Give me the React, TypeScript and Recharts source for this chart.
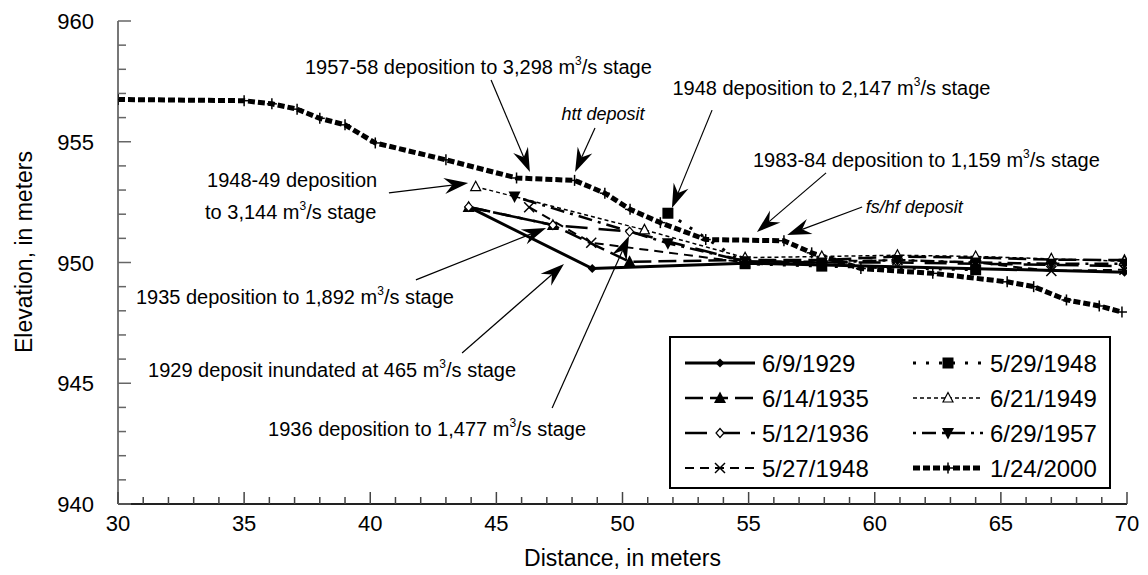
import React from 'react';
import { LineChart, Line, XAxis, YAxis } from 'recharts';

// ---------- data ----------
const xTicks = [30,31,32,33,34,35,36,37,38,39,40,41,42,43,44,45,46,47,48,49,50,51,52,53,54,55,56,57,58,59,60,61,62,63,64,65,66,67,68,69,70];
const xTickLabels = ['30','35','40','45','50','55','60','65','70'];
const yTicks = [940,941,942,943,944,945,946,947,948,949,950,951,952,953,954,955,956,957,958,959,960];
const yTickLabels = ['940','945','950','955','960'];

const dist1929 = [43.9, 48.8, 54.86, 69.9];
const elev1929 = [952.3, 949.75, 949.97, 949.6];

const dist1935 = [43.9, 47.24, 50.28, 54.86, 57.9, 60.9, 64.0, 67.0, 69.9];
const elev1935 = [952.3, 951.55, 950.03, 950.1, 950.1, 950.25, 950.2, 950.12, 950.1];

const dist1936 = [43.9, 47.24, 50.28, 54.86, 57.9, 60.9, 64.0, 67.0, 69.9];
const elev1936 = [952.3, 951.55, 951.28, 950.05, 950.0, 950.0, 949.95, 949.9, 949.85];

const dist1948a = [46.3, 48.76, 54.86, 57.9, 60.9, 64.0, 67.0, 69.9];
const elev1948a = [952.29, 950.82, 950.0, 950.05, 950.1, 950.0, 949.65, 949.7];

const dist1948b = [51.8, 54.86, 57.9, 64.0];
const elev1948b = [952.04, 949.95, 949.85, 949.7];

const dist1949 = [44.18, 50.87, 54.86, 57.9, 60.9, 64.0, 67.0, 69.9];
const elev1949 = [953.14, 951.35, 950.2, 950.25, 950.3, 950.25, 950.15, 950.05];

const dist1957 = [45.72, 51.8, 54.86, 57.9, 60.9, 64.0, 67.0, 69.9];
const elev1957 = [952.73, 950.8, 950.05, 950.0, 950.1, 950.0, 949.95, 949.95];

const dist2000 = [30, 35, 36.1, 37.1, 38, 39, 40.2, 43, 45.8, 48.1, 49.3, 50.3, 51.5, 53.3, 56.4, 57.5, 59.45, 62.3, 65.25, 66.3, 67.6, 68.9, 69.8];
const elev2000 = [956.75, 956.7, 956.57, 956.35, 955.97, 955.7, 954.95, 954.25, 953.5, 953.4, 952.87, 952.2, 951.65, 950.95, 950.9, 950.4, 949.75, 949.55, 949.2, 949.0, 948.45, 948.2, 947.95];

const legendLabels = ['6/9/1929','6/14/1935','5/12/1936','5/27/1948','5/29/1948','6/21/1949','6/29/1957','1/24/2000'];

const build = (d: number[], e: number[]) => d.map((v, i) => ({ d: v, e: e[i] }));

// ---------- layout ----------
const W = 1148, H = 575;
const PL = 118, PR = 1127, PT = 21, PB = 504;
const YW = 100, XH = 40;
const FONT = '"Liberation Sans", Arial, Helvetica, sans-serif';
const px = (d: number) => PL + (d - 30) * (PR - PL) / 40;
const py = (e: number) => PT + (960 - e) * (PB - PT) / 20;

// ---------- markers ----------
type MK = 'diamond' | 'tri' | 'odiamond' | 'x' | 'square' | 'otri' | 'dtri' | 'plus';
const marker = (k: MK, cx: number, cy: number, key?: any) => {
  switch (k) {
    case 'diamond':
      return <polygon key={key} points={`${cx},${cy - 4.5} ${cx + 4.5},${cy} ${cx},${cy + 4.5} ${cx - 4.5},${cy}`} fill="#000" />;
    case 'tri':
      return <polygon key={key} points={`${cx},${cy - 6.5} ${cx + 6},${cy + 5} ${cx - 6},${cy + 5}`} fill="#000" />;
    case 'odiamond':
      return <polygon key={key} points={`${cx},${cy - 4.5} ${cx + 4},${cy} ${cx},${cy + 4.5} ${cx - 4},${cy}`} fill="#fff" stroke="#000" strokeWidth={1.2} />;
    case 'x':
      return <g key={key}><line x1={cx - 5} y1={cy - 5} x2={cx + 5} y2={cy + 5} stroke="#000" strokeWidth={1.5} /><line x1={cx - 5} y1={cy + 5} x2={cx + 5} y2={cy - 5} stroke="#000" strokeWidth={1.5} /></g>;
    case 'square':
      return <rect key={key} x={cx - 5.5} y={cy - 5.5} width={11} height={11} fill="#000" />;
    case 'otri':
      return <polygon key={key} points={`${cx},${cy - 5.5} ${cx + 5},${cy + 4} ${cx - 5},${cy + 4}`} fill="#fff" stroke="#000" strokeWidth={1.2} />;
    case 'dtri':
      return <polygon key={key} points={`${cx - 6},${cy - 5} ${cx + 6},${cy - 5} ${cx},${cy + 6.5}`} fill="#000" />;
    case 'plus':
      return <g key={key}><line x1={cx - 5} y1={cy} x2={cx + 5} y2={cy} stroke="#000" strokeWidth={1.5} /><line x1={cx} y1={cy - 5.5} x2={cx} y2={cy + 5.5} stroke="#000" strokeWidth={1.5} /></g>;
  }
  return <g key={key} />;
};
const dotFn = (k: MK) => (p: any) => marker(k, p.cx, p.cy, `${k}-${p.index}`);

const SERIES = [
  { name: legendLabels[0], data: build(dist1929, elev1929), w: 3, dash: undefined as string | undefined, mk: 'diamond' as MK },
  { name: legendLabels[1], data: build(dist1935, elev1935), w: 2.5, dash: '18 7', mk: 'tri' as MK },
  { name: legendLabels[2], data: build(dist1936, elev1936), w: 2.5, dash: '22 11', mk: 'odiamond' as MK },
  { name: legendLabels[3], data: build(dist1948a, elev1948a), w: 2, dash: '9 6', mk: 'x' as MK },
  { name: legendLabels[4], data: build(dist1948b, elev1948b), w: 3, dash: '3 10', mk: 'square' as MK },
  { name: legendLabels[5], data: build(dist1949, elev1949), w: 1.5, dash: '4 3', mk: 'otri' as MK },
  { name: legendLabels[6], data: build(dist1957, elev1957), w: 2.5, dash: '3 6 14 6', mk: 'dtri' as MK },
  { name: legendLabels[7], data: build(dist2000, elev2000), w: 5, dash: '7 3', mk: 'plus' as MK },
];

// ---------- ticks ----------
const XTick = (props: any) => {
  const { x, payload } = props;
  const v = payload.value;
  const major = xTickLabels.includes(String(v));
  return (
    <g>
      <line x1={x} x2={x} y1={PB} y2={PB - (major ? 12 : 7)} stroke="#444" strokeWidth={1.5} />
      {major && <text x={x} y={PB + 27} textAnchor="middle" fontSize={22} fontFamily={FONT} fill="#000">{v}</text>}
    </g>
  );
};
const YTick = (props: any) => {
  const { y, payload } = props;
  const v = payload.value;
  const major = yTickLabels.includes(String(v));
  return (
    <g>
      <line x1={PL} x2={PL + (major ? 13 : 8)} y1={y} y2={y} stroke="#666" strokeWidth={1.5} />
      {major && <text x={94} y={y + 8} textAnchor="end" fontSize={22} fontFamily={FONT} fill="#000">{v}</text>}
    </g>
  );
};

// ---------- annotations (positions in distance / elevation) ----------
const arrows = [
  [44.79, 957.56, 46.33, 953.75],
  [48.91, 955.57, 48.12, 953.75],
  [53.55, 956.31, 51.96, 952.26],
  [58.07, 953.71, 55.33, 951.26],
  [59.5, 952.3, 56.53, 951.14],
  [40.74, 952.88, 43.88, 953.29],
  [41.81, 949.28, 46.97, 951.43],
  [43.64, 946.25, 47.68, 949.94],
  [47.21, 943.98, 50.26, 951.1],
];
const notes = [
  { d: 37.41, e: 958.11, pre: '1957-58 deposition to 3,298 m', post: '/s stage' },
  { d: 51.98, e: 957.21, pre: '1948 deposition to 2,147 m', post: '/s stage' },
  { d: 55.17, e: 954.24, pre: '1983-84 deposition to 1,159 m', post: '/s stage' },
  { d: 33.53, e: 953.42, pre: '1948-49 deposition', post: '' },
  { d: 33.45, e: 952.1, pre: 'to 3,144 m', post: '/s stage' },
  { d: 30.71, e: 948.58, pre: '1935 deposition to 1,892 m', post: '/s stage' },
  { d: 31.19, e: 945.55, pre: '1929 deposit inundated at 465 m', post: '/s stage' },
  { d: 35.95, e: 943.09, pre: '1936 deposition to 1,477 m', post: '/s stage' },
];
const italicNotes = [
  { d: 49.23, e: 956.19, text: 'htt deposit', anchor: 'middle' },
  { d: 59.64, e: 952.31, text: 'fs/hf deposit', anchor: 'start' },
];

const Arrow = ({ a }: { a: number[] }) => {
  const x1 = px(a[0]), y1 = py(a[1]), x2 = px(a[2]), y2 = py(a[3]);
  const dx = x2 - x1, dy = y2 - y1;
  const len = Math.hypot(dx, dy);
  const ux = dx / len, uy = dy / len;
  const L = 24, Wd = 8, N = 16;
  const bx = x2 - ux * L, by = y2 - uy * L;
  const nx = -uy, ny = ux;
  const nxp = x2 - ux * N, nyp = y2 - uy * N;
  return (
    <g>
      <line x1={x1} y1={y1} x2={nxp} y2={nyp} stroke="#000" strokeWidth={1.2} />
      <polygon points={`${x2},${y2} ${bx + nx * Wd},${by + ny * Wd} ${nxp},${nyp} ${bx - nx * Wd},${by - ny * Wd}`} fill="#000" />
    </g>
  );
};

const LegendItem = ({ s, x, y }: { s: typeof SERIES[number]; x: number; y: number }) => (
  <g>
    <line x1={x} x2={x + 70} y1={y} y2={y} stroke="#000" strokeWidth={s.w} strokeDasharray={s.dash} />
    {marker(s.mk, x + 35, y)}
    <text x={x + 77} y={y + 8.5} fontSize={24} fontFamily={FONT} fill="#000">{s.name}</text>
  </g>
);

export default function App() {
  return (
    <div style={{ position: 'absolute', left: 0, top: 0, width: W, height: H, background: '#fff' }}>
      <LineChart width={W} height={H} margin={{ top: PT, right: W - PR, bottom: H - PB - XH, left: PL - YW }}>
        <XAxis dataKey="d" type="number" domain={[30, 70]} ticks={xTicks} interval={0} height={XH}
          tickSize={0} tickMargin={0} tick={<XTick />} axisLine={{ stroke: '#222', strokeWidth: 2 }} allowDataOverflow />
        <YAxis dataKey="e" type="number" domain={[940, 960]} ticks={yTicks} interval={0} width={YW}
          tickSize={0} tickMargin={0} tick={<YTick />} axisLine={{ stroke: '#777', strokeWidth: 2 }} allowDataOverflow />
        {SERIES.map((s) => (
          <Line key={s.name} data={s.data} dataKey="e" type="linear" stroke="#000" strokeWidth={s.w}
            strokeDasharray={s.dash} dot={dotFn(s.mk)} activeDot={false} isAnimationActive={false} legendType="none" />
        ))}
      </LineChart>
      <svg width={W} height={H} style={{ position: 'absolute', left: 0, top: 0, pointerEvents: 'none' }}>
        {arrows.map((a, i) => <Arrow key={i} a={a} />)}
        {notes.map((n, i) => (
          <text key={i} x={px(n.d)} y={py(n.e) + 7} fontSize={20} fontFamily={FONT} fill="#000">
            <tspan>{n.pre}</tspan>
            {n.post && <tspan fontSize={12} dy={-9}>3</tspan>}
            {n.post && <tspan dy={9}>{n.post}</tspan>}
          </text>
        ))}
        {italicNotes.map((n, i) => (
          <text key={i} x={px(n.d)} y={py(n.e) + 6.5} fontSize={18} fontStyle="italic" textAnchor={n.anchor as any} fontFamily={FONT} fill="#000">{n.text}</text>
        ))}
        <rect x={670} y={337} width={440} height={151} fill="#fff" stroke="#000" strokeWidth={2} />
        {SERIES.map((s, i) => (
          <LegendItem key={s.name} s={s} x={i < 4 ? 685 : 913} y={363 + (i % 4) * 35} />
        ))}
        <text x={(PL + PR) / 2} y={566} textAnchor="middle" fontSize={23} fontFamily={FONT} fill="#000">Distance, in meters</text>
        <text x={0} y={0} transform={`translate(32, 252) rotate(-90)`} textAnchor="middle" fontSize={23} fontFamily={FONT} fill="#000">Elevation, in meters</text>
      </svg>
    </div>
  );
}
